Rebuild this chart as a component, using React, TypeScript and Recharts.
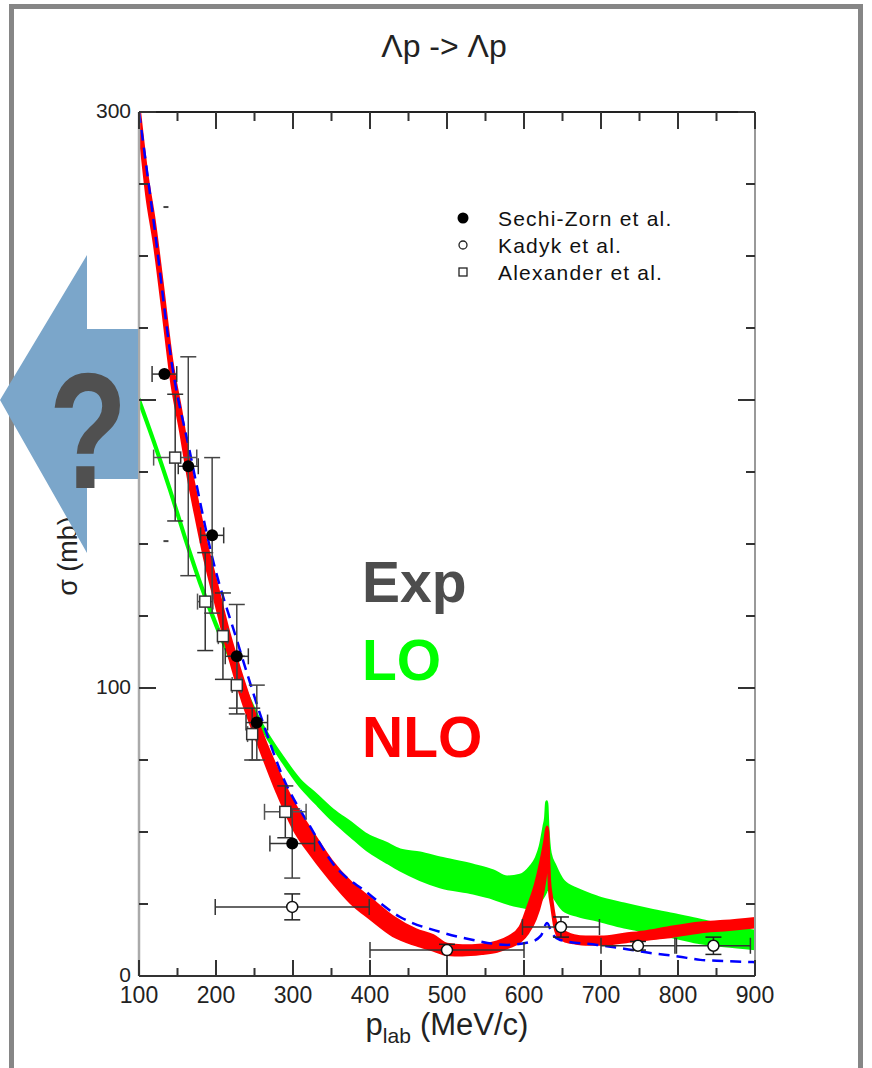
import React from "react";
import { ComposedChart, Area, Line, Scatter, XAxis, YAxis, ErrorBar, Legend } from "recharts";

// LO band (green), sigma in mb
const loX = [100, 120, 140, 160, 180, 200, 225, 257, 287, 309, 330, 352, 375, 396, 420, 439, 465, 491, 534, 560, 578, 595, 608, 616, 621, 626, 628, 629.5, 631, 634, 640, 651, 670, 695, 730, 763, 800, 829, 860, 900];
const loLow = [199.4, 184.4, 168.4, 151.4, 135.4, 121.4, 106.3, 87.4, 74.3, 66, 60, 54, 48.6, 43.8, 39.8, 36.8, 33.5, 31, 28.8, 27, 25.3, 24.2, 23.6, 24.5, 26, 28, 29, 30, 30, 29.8, 27, 23, 21, 19.4, 17, 15.3, 13.2, 11.5, 10.5, 9.5];
const loHigh = [200.6, 185.6, 169.6, 152.6, 136.6, 122.6, 107.5, 88.6, 75.8, 68, 63, 57.6, 53.2, 49, 46.2, 43.8, 42.7, 41, 38.5, 36.5, 34.4, 35, 37.8, 41, 45, 52, 55, 60.5, 52, 42.7, 38.5, 33, 30, 27.4, 25, 23, 21, 19.4, 17.5, 15.5];

// NLO band (red)
const nloX = [100, 110, 120, 130, 143, 154, 164, 175, 186, 200, 216, 235, 255, 279, 300, 325, 350, 375, 400, 430, 460, 482, 500, 520, 545, 565, 580, 595, 605, 615, 622, 627, 630, 631, 633, 636, 640, 645, 655, 665, 680, 700, 730, 760, 786, 829, 860, 900];
const nloLow = [296, 271, 254, 233, 205, 189, 173, 158, 144, 129, 112, 95, 80.5, 64, 51.5, 41.5, 33, 25.5, 20, 14, 10.8, 9, 7.5, 7.3, 7.8, 8.6, 10, 12, 15, 20, 26, 33, 40, 44, 30, 24, 17, 13.5, 12, 11.5, 11, 11, 11.8, 12.8, 13.5, 15.3, 16, 17];
const nloHigh = [302, 279, 262, 241, 213, 197, 181, 166, 152, 137, 120, 103, 87.5, 72, 60.5, 50, 40, 32.5, 27, 20.5, 16, 14, 11, 10.5, 10.8, 11.8, 13.5, 17, 24, 32, 40, 47, 51.7, 50, 34, 27, 20, 16.5, 15, 14, 13.5, 13.5, 14.5, 15.5, 16.7, 18.4, 19, 20];

// blue dashed curve
const blueX = [100, 120, 143, 166, 196, 227, 261, 287, 322, 352, 396, 439, 491, 534, 578, 608, 622, 630, 636, 647, 695, 730, 764, 800, 829, 860, 900];
const blueY = [300, 260, 212, 182, 144.4, 116.7, 88, 69, 52, 39, 29, 20.5, 15.3, 12.5, 10.8, 11.8, 14, 18.4, 15, 12.5, 10.8, 9.5, 8, 6.8, 5.6, 5.2, 4.8];

// Sechi-Zorn et al.
const sechiX = [133, 164, 195, 227, 253, 299];
const sechiY = [209, 177, 153, 111, 88, 46];
const sechiXErr = [16, 13, 15, 15, 14, 29];
const sechiYErr = [0, 38, 27, 18, 13, 12];

// Kadyk et al.
const kadykX = [299, 500, 648, 748, 846];
const kadykY = [24, 9, 17, 10.5, 10.5];
const kadykXErr = [100, 100, 50, 48, 48];
const kadykYErr = [[4.5, 4.5], [9, 2], [3.5, 3.5], [1.5, 1.5], [3, 3]];

// Alexander et al.
const alexX = [147, 186, 209, 227, 247, 290];
const alexY = [180, 130, 118, 101, 84, 57];
const alexXErr = [28, 10, 6, 6, 6, 27];
const alexYErr = [22, 17, 15, 10, 9, 9];

// stray small marks
const markX = [135, 135];
const markY = [267, 151];

const seriesNames = ["Sechi-Zorn et al.", "Kadyk et al.", "Alexander et al."];

const xTicks = [100, 150, 200, 250, 300, 350, 400, 450, 500, 550, 600, 650, 700, 750, 800, 850, 900];
const xLabels = [100, 200, 300, 400, 500, 600, 700, 800, 900];
const yTicks = [0, 25, 50, 75, 100, 125, 150, 175, 200, 225, 250, 275, 300];
const yLabels = [0, 100, 200, 300];

const loData = loX.map((x, i) => ({ x, range: [loLow[i], loHigh[i]] }));
const nloData = nloX.map((x, i) => ({ x, range: [nloLow[i], nloHigh[i]] }));
const blueData = blueX.map((x, i) => ({ x, y: blueY[i] }));
const sechiData = sechiX.map((x, i) => ({ x, y: sechiY[i], xErr: sechiXErr[i], yErr: sechiYErr[i] }));
const kadykData = kadykX.map((x, i) => ({ x, y: kadykY[i], xErr: kadykXErr[i], yErr: kadykYErr[i] }));
const alexData = alexX.map((x, i) => ({ x, y: alexY[i], xErr: alexXErr[i], yErr: alexYErr[i] }));
const markData = markX.map((x, i) => ({ x, y: markY[i] }));

const FONT = '"Liberation Sans", Arial, sans-serif';

const bottomTick = (props: any) => {
  const { x, y, payload } = props;
  const major = xLabels.includes(payload.value);
  const axisY = y - 10;
  return (
    <g>
      <line x1={x} x2={x} y1={axisY} y2={axisY - (major ? 16 : 8)} stroke="#333" strokeWidth={2} />
      {major && (
        <text x={x} y={y} dy="0.76em" textAnchor="middle" fontSize={23} fill="#222" fontFamily={FONT}>
          {payload.value}
        </text>
      )}
    </g>
  );
};

const topTick = (props: any) => {
  const { x, y, payload } = props;
  const major = xLabels.includes(payload.value);
  return <line x1={x} x2={x} y1={y} y2={y + (major ? 17 : 9)} stroke="#333" strokeWidth={2} />;
};

const leftTick = (props: any) => {
  const { x, y, payload } = props;
  const major = yLabels.includes(payload.value);
  const axisX = x + 8;
  return (
    <g>
      <line x1={axisX} x2={axisX + (major ? 17 : 9)} y1={y} y2={y} stroke="#333" strokeWidth={2} />
      {major && (
        <text x={x} y={y} dy="0.3em" textAnchor="end" fontSize={21} fill="#222" fontFamily={FONT}>
          {payload.value}
        </text>
      )}
    </g>
  );
};

const rightTick = (props: any) => {
  const { x, y, payload } = props;
  const major = yLabels.includes(payload.value);
  return <line x1={x} x2={x - (major ? 17 : 9)} y1={y} y2={y} stroke="#333" strokeWidth={2} />;
};

const xLabel = (props: any) => {
  const vb = props.viewBox;
  return (
    <text x={vb.x + vb.width / 2} y={vb.y + 59} textAnchor="middle" fontSize={31} fill="#222" fontFamily={FONT}>
      p
      <tspan fontSize={21} dy={8}>lab</tspan>
      <tspan fontSize={31} dy={-8} dx={9}>(MeV/c)</tspan>
    </text>
  );
};

const yLabel = (props: any) => {
  const vb = props.viewBox;
  const cx = vb.x - 2;
  const cy = vb.y + vb.height / 2 + 12;
  return (
    <text x={cx} y={cy} transform={`rotate(-90, ${cx}, ${cy})`} textAnchor="middle" fontSize={27} fill="#222" fontFamily={FONT}>
      σ (mb)
    </text>
  );
};

const filledCircle = (p: any) => <circle cx={p.cx} cy={p.cy} r={6} fill="#000" />;
const openCircle = (p: any) => <circle cx={p.cx} cy={p.cy} r={5.5} fill="#fff" stroke="#111" strokeWidth={1.5} />;
const openSquare = (p: any) => <rect x={p.cx - 5.5} y={p.cy - 5.5} width={11} height={11} fill="#fff" stroke="#333" strokeWidth={1.5} />;
const dash = (p: any) => <line x1={p.cx - 2.5} x2={p.cx + 2.5} y1={p.cy} y2={p.cy} stroke="#444" strokeWidth={2} />;

const legendMarker = (name: string, cx: number, cy: number) => {
  if (name === seriesNames[0]) return <circle cx={cx} cy={cy} r={5.5} fill="#000" />;
  if (name === seriesNames[1]) return <circle cx={cx} cy={cy} r={4} fill="#fff" stroke="#222" strokeWidth={1.3} />;
  return <rect x={cx - 4} y={cy - 4} width={8} height={8} fill="#fff" stroke="#222" strokeWidth={1.3} />;
};

const renderLegend = (props: any) => {
  const items = (props.payload || [])
    .filter((e: any) => seriesNames.includes(e.value))
    .sort((a: any, b: any) => seriesNames.indexOf(a.value) - seriesNames.indexOf(b.value));
  return (
    <svg width={260} height={90}>
      {items.map((e: any, i: number) => (
        <g key={e.value}>
          {legendMarker(e.value, 13, 14 + i * 27)}
          <text x={48} y={14 + i * 27} dy="0.36em" fontSize={21} letterSpacing={1.2} fill="#111" fontFamily={FONT}>
            {e.value}
          </text>
        </g>
      ))}
    </svg>
  );
};

export default function App() {
  return (
    <div style={{ position: "absolute", left: 0, top: 0, width: 872, height: 1068, overflow: "hidden", background: "#fff" }}>
      <div
        style={{
          position: "absolute",
          left: 9,
          top: 4,
          width: 854,
          height: 1200,
          boxSizing: "border-box",
          borderTop: "5px solid #868686",
          borderLeft: "5px solid #868686",
          borderRight: "5px solid #868686",
        }}
      />
      <div style={{ position: "absolute", left: 0, top: 0 }}>
        <ComposedChart width={872} height={1068} margin={{ top: 110, right: 115, bottom: 32, left: 79 }}>
          <XAxis
            xAxisId="b"
            dataKey="x"
            type="number"
            domain={[100, 900]}
            allowDataOverflow
            ticks={xTicks}
            interval={0}
            tickSize={0}
            tickMargin={10}
            tickLine={false}
            axisLine={{ stroke: "#333", strokeWidth: 2 }}
            height={60}
            tick={bottomTick}
            label={xLabel}
          />
          <XAxis
            xAxisId="t"
            orientation="top"
            dataKey="x"
            type="number"
            domain={[100, 900]}
            allowDataOverflow
            ticks={xTicks}
            interval={0}
            tickSize={0}
            tickMargin={0}
            tickLine={false}
            axisLine={{ stroke: "#222", strokeWidth: 2 }}
            height={2}
            tick={topTick}
          />
          <YAxis
            yAxisId="l"
            type="number"
            domain={[0, 300]}
            allowDataOverflow
            ticks={yTicks}
            interval={0}
            tickSize={0}
            tickMargin={8}
            tickLine={false}
            axisLine={{ stroke: "#aaa", strokeWidth: 2.5 }}
            width={60}
            tick={leftTick}
            label={yLabel}
          />
          <YAxis
            yAxisId="r"
            orientation="right"
            type="number"
            domain={[0, 300]}
            allowDataOverflow
            ticks={yTicks}
            interval={0}
            tickSize={0}
            tickMargin={0}
            tickLine={false}
            axisLine={{ stroke: "#999", strokeWidth: 2 }}
            width={2}
            tick={rightTick}
          />
          <Legend
            layout="vertical"
            align="center"
            verticalAlign="middle"
            content={renderLegend}
            wrapperStyle={{ left: 450, top: 204, width: 260 }}
          />
          {/* invisible series so the top and right frame axes get drawn */}
          <Line
            xAxisId="t"
            yAxisId="r"
            data={blueData}
            dataKey="y"
            stroke="transparent"
            strokeWidth={0}
            dot={false}
            activeDot={false}
            legendType="none"
            isAnimationActive={false}
          />
          <Area
            xAxisId="b"
            yAxisId="l"
            data={loData}
            dataKey="range"
            type="monotoneX"
            fill="#00ff00"
            fillOpacity={1}
            stroke="#00ff00"
            strokeWidth={3}
            legendType="none"
            isAnimationActive={false}
          />
          <Area
            xAxisId="b"
            yAxisId="l"
            data={nloData}
            dataKey="range"
            type="monotoneX"
            fill="#ff0000"
            fillOpacity={1}
            stroke="#ff0000"
            strokeWidth={3}
            legendType="none"
            isAnimationActive={false}
          />
          <Line
            xAxisId="b"
            yAxisId="l"
            data={blueData}
            dataKey="y"
            type="monotoneX"
            stroke="#0000ff"
            strokeWidth={2.5}
            strokeDasharray="11 7"
            dot={false}
            legendType="none"
            isAnimationActive={false}
          />
          <Scatter xAxisId="b" yAxisId="l" data={markData} dataKey="y" shape={dash} legendType="none" isAnimationActive={false} />
          <Scatter xAxisId="b" yAxisId="l" name={seriesNames[2]} data={alexData} dataKey="y" shape={openSquare} isAnimationActive={false}>
            <ErrorBar dataKey="xErr" direction="x" width={8} stroke="#555" strokeWidth={1.5} />
            <ErrorBar dataKey="yErr" direction="y" width={8} stroke="#333" strokeWidth={1.5} />
          </Scatter>
          <Scatter xAxisId="b" yAxisId="l" name={seriesNames[1]} data={kadykData} dataKey="y" shape={openCircle} isAnimationActive={false}>
            <ErrorBar dataKey="xErr" direction="x" width={8} stroke="#333" strokeWidth={1.5} />
            <ErrorBar dataKey="yErr" direction="y" width={8} stroke="#222" strokeWidth={1.5} />
          </Scatter>
          <Scatter xAxisId="b" yAxisId="l" name={seriesNames[0]} data={sechiData} dataKey="y" shape={filledCircle} isAnimationActive={false}>
            <ErrorBar dataKey="xErr" direction="x" width={8} stroke="#333" strokeWidth={1.5} />
            <ErrorBar dataKey="yErr" direction="y" width={8} stroke="#444" strokeWidth={1.5} />
          </Scatter>
        </ComposedChart>
      </div>
      <svg width={872} height={1068} style={{ position: "absolute", left: 0, top: 0, pointerEvents: "none" }}>
        <text x={444} y={57} textAnchor="middle" fontSize={32} fill="#222" fontFamily={FONT}>
          Λp -&gt; Λp
        </text>
        <polygon points="0,400 87,255 87,329 138,329 138,479 87,479 87,553" fill="#7ba6ca" />
        <text
          x={88}
          y={488}
          textAnchor="middle"
          fontSize={165}
          fontWeight={700}
          fill="#505050"
          fontFamily={FONT}
          transform="translate(88,0) scale(0.78,1) translate(-88,0)"
        >
          ?
        </text>
        <text x={362} y={602} fontSize={57} fontWeight={700} fill="#4d4d4d" fontFamily={FONT}>Exp</text>
        <text x={362} y={680} fontSize={57} fontWeight={700} fill="#00ff00" fontFamily={FONT}>LO</text>
        <text x={362} y={757} fontSize={57} fontWeight={700} fill="#ff0000" fontFamily={FONT}>NLO</text>
      </svg>
    </div>
  );
}
